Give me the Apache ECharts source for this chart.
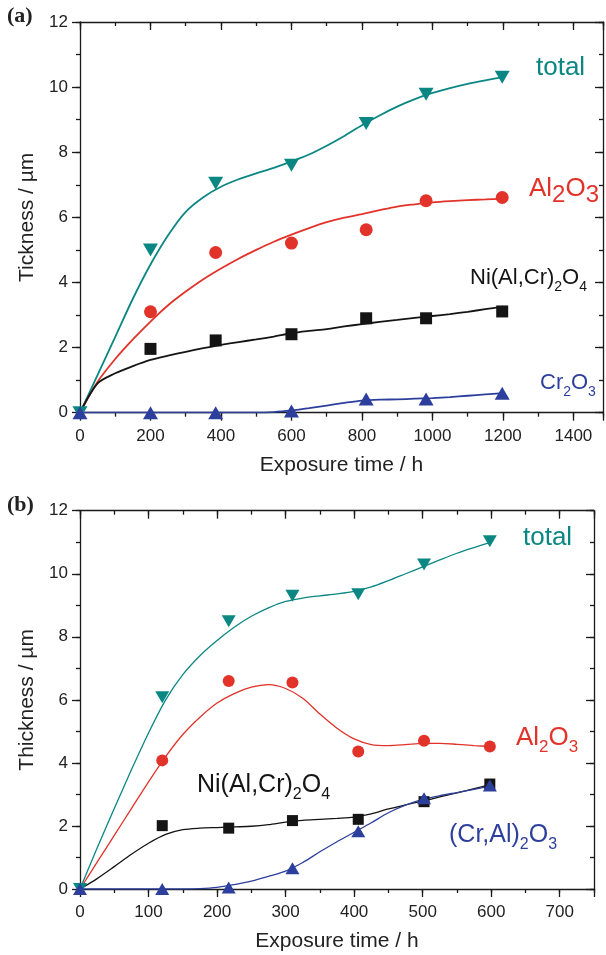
<!DOCTYPE html>
<html><head><meta charset="utf-8">
<script src="https://cdn.jsdelivr.net/npm/echarts@6/dist/echarts.min.js"></script>
<style>html,body{margin:0;padding:0;background:#fff}#c{width:606px;height:955px}</style>
</head><body><div id="c"></div>
<script>
// ---------- Panel (a) ----------
const aMarkX   = [0, 200, 385, 600, 812, 982, 1198];
const aTotal   = [0, 5.0, 7.05, 7.6, 8.88, 9.78, 10.3];
const aAl2O3   = [null, 3.1, 4.92, 5.21, 5.62, 6.51, 6.61];
const aSpinel  = [null, 1.96, 2.22, 2.41, 2.9, 2.9, 3.11];
const aCr2O3   = [0, 0, 0, 0.05, 0.42, 0.42, 0.6];
const aFitX       = [0, 50, 100, 150, 200, 250, 300, 350, 400, 450, 500, 550, 600, 650, 700, 750, 800, 850, 900, 950, 1000, 1050, 1100, 1150, 1200];
const aFitTotal   = [0, 1.16, 2.33, 3.5, 4.55, 5.45, 6.17, 6.62, 6.94, 7.17, 7.35, 7.52, 7.72, 7.93, 8.2, 8.5, 8.83, 9.13, 9.4, 9.63, 9.82, 9.97, 10.1, 10.21, 10.31];
const aFitAl2O3   = [0, 0.95, 1.65, 2.25, 2.8, 3.3, 3.72, 4.1, 4.43, 4.73, 5.0, 5.25, 5.47, 5.67, 5.85, 5.99, 6.1, 6.22, 6.33, 6.4, 6.46, 6.5, 6.53, 6.55, 6.57];
const aFitSpinel  = [0, 0.9, 1.21, 1.43, 1.62, 1.75, 1.87, 1.98, 2.08, 2.17, 2.25, 2.34, 2.44, 2.51, 2.57, 2.65, 2.72, 2.79, 2.85, 2.91, 2.97, 3.03, 3.1, 3.18, 3.26];
const aFitCr2O3   = [0, 0, 0, 0, 0, 0, 0, 0, 0, 0, 0, 0.02, 0.07, 0.14, 0.22, 0.3, 0.37, 0.4, 0.41, 0.43, 0.45, 0.48, 0.52, 0.56, 0.6];
const aXTickLabels = [0, 200, 400, 600, 800, 1000, 1200, 1400];
const aYTickLabels = [0, 2, 4, 6, 8, 10, 12];

// ---------- Panel (b) ----------
const bMarkX   = [0, 120, 217, 310, 406, 502, 598];
const bTotal   = [0, 6.08, 8.49, 9.3, 9.35, 10.29, 11.03];
const bAl2O3   = [null, 4.08, 6.6, 6.55, 4.36, 4.7, 4.52];
const bSpinel  = [null, 2.01, 1.93, 2.17, 2.21, 2.77, 3.33];
const bCrAl    = [0, 0, 0.05, 0.66, 1.83, 2.88, 3.28];
const bFitX       = [0, 25, 50, 75, 100, 125, 150, 175, 200, 225, 250, 275, 300, 325, 350, 375, 400, 425, 450, 475, 500, 525, 550, 575, 600];
const bFitTotal   = [0, 1.3, 2.55, 3.78, 4.95, 6.0, 6.8, 7.4, 7.88, 8.3, 8.65, 8.92, 9.12, 9.23, 9.3, 9.36, 9.44, 9.58, 9.78, 10.0, 10.22, 10.44, 10.65, 10.83, 11.0];
const bFitAl2O3   = [0, 0.85, 1.7, 2.55, 3.4, 4.2, 4.9, 5.45, 5.9, 6.2, 6.4, 6.48, 6.36, 6.05, 5.55, 5.1, 4.76, 4.58, 4.55, 4.58, 4.62, 4.62, 4.59, 4.55, 4.52];
const bFitSpinel  = [0, 0.33, 0.71, 1.1, 1.45, 1.73, 1.88, 1.93, 1.95, 1.97, 1.99, 2.04, 2.12, 2.18, 2.21, 2.24, 2.28, 2.38, 2.54, 2.67, 2.79, 2.92, 3.05, 3.18, 3.32];
const bFitCrAl    = [0, 0, 0, 0, 0, 0, 0, 0.01, 0.05, 0.14, 0.25, 0.4, 0.57, 0.84, 1.18, 1.5, 1.8, 2.1, 2.42, 2.66, 2.84, 2.96, 3.06, 3.16, 3.27];
const bXTickLabels = [0, 100, 200, 300, 400, 500, 600, 700];
const bYTickLabels = [0, 2, 4, 6, 8, 10, 12];

const TEAL = '#0b8783', RED = '#e2332b', BLUE = '#2d3f9c', BLACK = '#141414';
const FONT = 'Liberation Sans';
const AX = '#1a1a1a';

function pairs(xs, ys) {
  const out = [];
  xs.forEach((x, i) => { if (ys[i] != null) out.push([x, ys[i]]); });
  return out;
}

function xAxes(gi, max, interval, labels, name) {
  const base = {
    type: 'value', gridIndex: gi, min: 0, max: max, splitLine: {show: false},
    axisLine: {onZero: false, lineStyle: {color: AX, width: 1.3}}
  };
  return [
    Object.assign({}, base, {position: 'bottom', interval: interval,
      axisTick: {show: true, inside: false, length: 8, lineStyle: {color: AX, width: 1.3}},
      axisLabel: {show: true, margin: 15, fontSize: 17, fontFamily: FONT, color: '#222',
        formatter: v => labels.indexOf(v) >= 0 ? String(v) : ''},
      name: name, nameLocation: 'middle', nameGap: 42,
      nameTextStyle: {fontSize: 21, fontFamily: FONT, color: '#222'}}),
    Object.assign({}, base, {position: 'bottom', interval: interval / 2, axisLine: {show: false, onZero: false},
      axisTick: {show: true, inside: false, length: 4, lineStyle: {color: AX, width: 1.3}},
      axisLabel: {show: false}}),
    Object.assign({}, base, {position: 'top', interval: interval,
      axisTick: {show: true, inside: true, length: 8, lineStyle: {color: AX, width: 1.3}},
      axisLabel: {show: false}}),
    Object.assign({}, base, {position: 'top', interval: interval / 2, axisLine: {show: false, onZero: false},
      axisTick: {show: true, inside: true, length: 4, lineStyle: {color: AX, width: 1.3}},
      axisLabel: {show: false}})
  ];
}
function yAxes(gi, labels, name) {
  const base = {
    type: 'value', gridIndex: gi, min: 0, max: 12, splitLine: {show: false},
    axisLine: {onZero: false, lineStyle: {color: AX, width: 1.3}}
  };
  return [
    Object.assign({}, base, {position: 'left', interval: 2,
      axisTick: {show: true, inside: false, length: 8, lineStyle: {color: AX, width: 1.3}},
      axisLabel: {show: true, margin: 12, fontSize: 17, fontFamily: FONT, color: '#222',
        formatter: v => labels.indexOf(v) >= 0 ? String(v) : ''},
      name: name, nameLocation: 'middle', nameGap: 42, nameRotate: 90,
      nameTextStyle: {fontSize: 21, fontFamily: FONT, color: '#222'}}),
    Object.assign({}, base, {position: 'left', interval: 1, axisLine: {show: false, onZero: false},
      axisTick: {show: true, inside: false, length: 4, lineStyle: {color: AX, width: 1.3}},
      axisLabel: {show: false}}),
    Object.assign({}, base, {position: 'right', interval: 2,
      axisTick: {show: true, inside: true, length: 8, lineStyle: {color: AX, width: 1.3}},
      axisLabel: {show: false}}),
    Object.assign({}, base, {position: 'right', interval: 1, axisLine: {show: false, onZero: false},
      axisTick: {show: true, inside: true, length: 4, lineStyle: {color: AX, width: 1.3}},
      axisLabel: {show: false}})
  ];
}

function fit(ai, xs, ys, color, w) {
  return {type: 'line', xAxisIndex: ai, yAxisIndex: ai, data: pairs(xs, ys), smooth: 0.3,
    symbol: 'none', showSymbol: false, lineStyle: {color: color, width: w}, z: 2, silent: true};
}
function marks(ai, xs, ys, color, symbol, size, rot) {
  return {type: 'scatter', xAxisIndex: ai, yAxisIndex: ai, data: pairs(xs, ys), symbol: symbol,
    symbolSize: size, symbolRotate: rot || 0, itemStyle: {color: color, opacity: 1}, z: 3};
}

// rich label with subscripts; parts: [[text, isSub], ...]
function label(x, baseline, parts, mainSize, subSize, drop, color) {
  const L = mainSize + 10;
  const top = baseline - L / 2 - 0.3465 * mainSize;
  const subCenter = baseline + drop - 0.3465 * subSize;
  const Ls = 2 * (top + L - subCenter);
  const text = parts.map(p => (p[1] ? '{s|' : '{m|') + p[0] + '}').join('');
  return {type: 'text', left: x, top: top, silent: true,
    style: {text: text, fill: color,
      rich: {
        m: {fontSize: mainSize, fontFamily: FONT, fill: color, lineHeight: L, verticalAlign: 'middle'},
        s: {fontSize: subSize, fontFamily: FONT, fill: color, lineHeight: Ls, verticalAlign: 'bottom'}
      }}};
}

const chart = echarts.init(document.getElementById('c'), null, {renderer: 'canvas'});
chart.setOption({
  animation: false,
  backgroundColor: '#fff',
  grid: [
    {left: 80, top: 22, width: 525, height: 390.7},
    {left: 80, top: 510.7, width: 514, height: 378.3}
  ],
  xAxis: xAxes(0, 1484, 200, aXTickLabels, 'Exposure time / h')
    .concat(xAxes(1, 750, 100, bXTickLabels, 'Exposure time / h')),
  yAxis: yAxes(0, aYTickLabels, 'Tickness / µm').concat(yAxes(1, bYTickLabels, 'Thickness / µm')),
  series: [
    fit(0, aFitX, aFitTotal, TEAL, 1.8),
    fit(0, aFitX, aFitAl2O3, RED, 1.8),
    fit(0, aFitX, aFitSpinel, BLACK, 1.8),
    fit(0, aFitX, aFitCr2O3, BLUE, 1.8),
    marks(0, aMarkX, aTotal, TEAL, 'triangle', [15, 13], 180),
    marks(0, aMarkX, aAl2O3, RED, 'circle', 13),
    marks(0, aMarkX, aSpinel, BLACK, 'rect', 12),
    marks(0, aMarkX, aCr2O3, BLUE, 'triangle', [15, 13]),

    fit(4, bFitX, bFitTotal, TEAL, 1.3),
    fit(4, bFitX, bFitAl2O3, RED, 1.3),
    fit(4, bFitX, bFitSpinel, BLACK, 1.3),
    fit(4, bFitX, bFitCrAl, BLUE, 1.3),
    marks(4, bMarkX, bTotal, TEAL, 'triangle', [14, 12], 180),
    marks(4, bMarkX, bAl2O3, RED, 'circle', 12),
    marks(4, bMarkX, bSpinel, BLACK, 'rect', 11),
    marks(4, bMarkX, bCrAl, BLUE, 'triangle', [14, 12])
  ],
  graphic: [
    {type: 'text', left: 7, top: 5, style: {text: '(a)', font: 'bold 22px "Liberation Serif"', fill: '#222'}},
    {type: 'text', left: 7, top: 494, style: {text: '(b)', font: 'bold 22px "Liberation Serif"', fill: '#222'}},
    label(536, 81.7, [['total', 0]], 26, 26, 0, TEAL),
    label(529, 203, [['Al', 0], ['2', 1], ['O', 0], ['3', 1]], 26, 24, 7, RED),
    label(470, 290.7, [['Ni(Al,Cr)', 0], ['2', 1], ['O', 0], ['4', 1]], 22, 14, 7, BLACK),
    label(540, 395.7, [['Cr', 0], ['2', 1], ['O', 0], ['3', 1]], 22, 14, 6, BLUE),
    label(523, 551.7, [['total', 0]], 26, 26, 0, TEAL),
    label(516, 751.7, [['Al', 0], ['2', 1], ['O', 0], ['3', 1]], 26, 17, 10, RED),
    label(197, 798.3, [['Ni(Al,Cr)', 0], ['2', 1], ['O', 0], ['4', 1]], 25, 16, 10, BLACK),
    label(449, 848.3, [['(Cr,Al)', 0], ['2', 1], ['O', 0], ['3', 1]], 25, 16, 8, BLUE)
  ]
});
</script>
</body></html>
